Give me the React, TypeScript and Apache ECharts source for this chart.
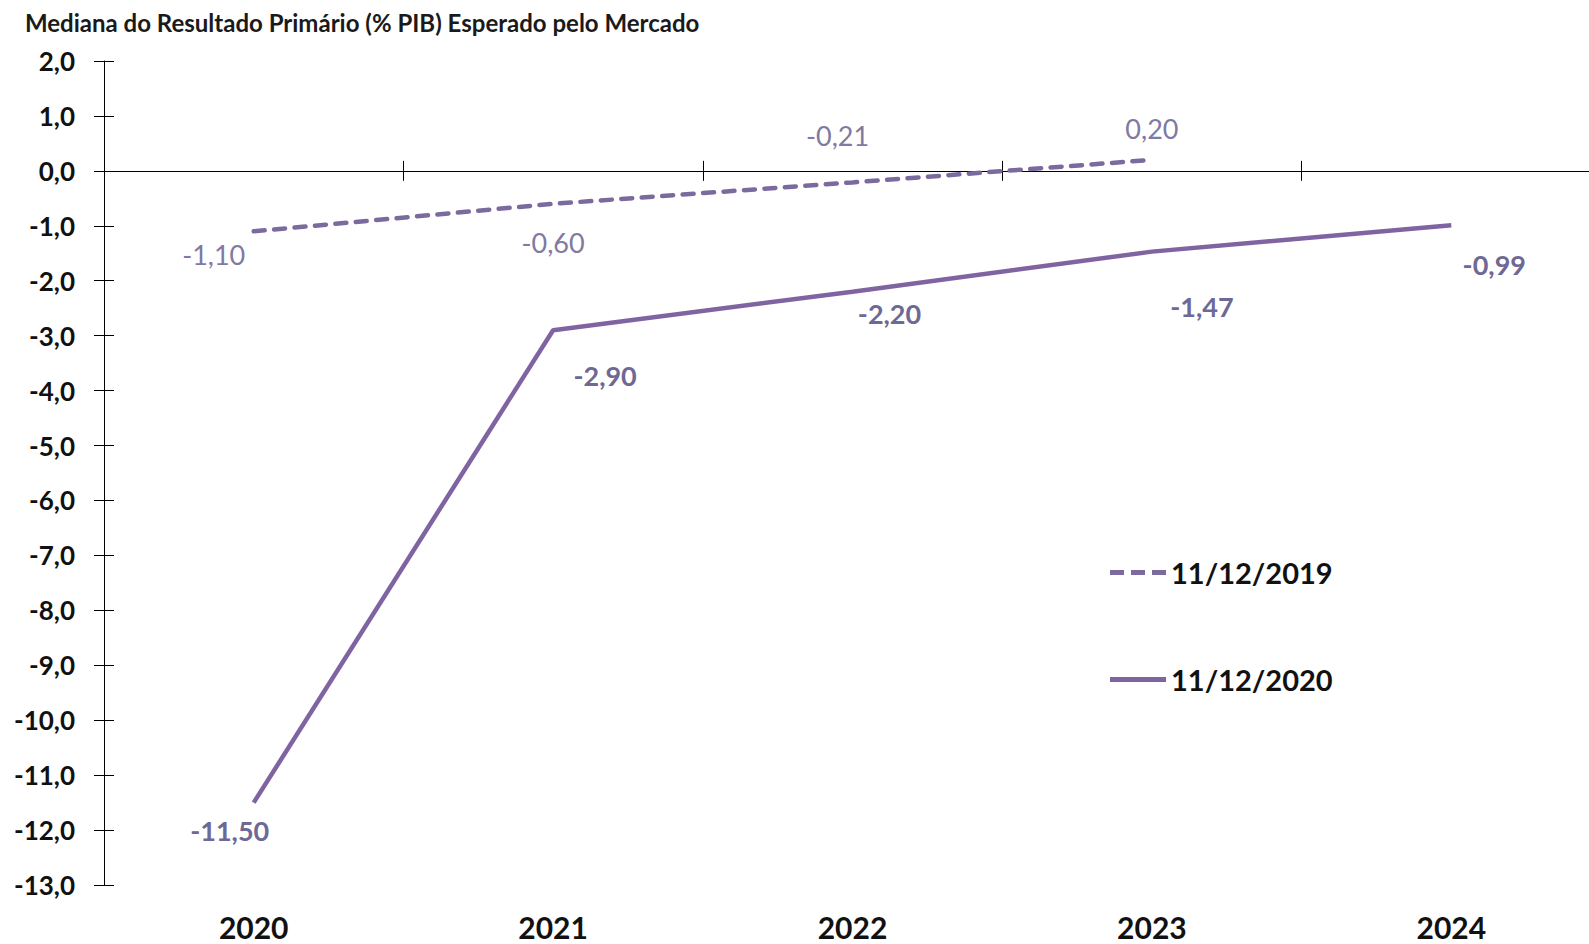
import React, { useEffect, useRef } from 'react';
import * as echarts from 'echarts';

const chartTitle = 'Mediana do Resultado Primário (% PIB) Esperado pelo Mercado';
const categories = ['2020', '2021', '2022', '2023', '2024'];
const seriesNames = ['11/12/2019', '11/12/2020'];
const values2019: (number | null)[] = [-1.1, -0.6, -0.21, 0.2, null];
const values2020: (number | null)[] = [-11.5, -2.9, -2.2, -1.47, -0.99];
const yMin = -13;
const yMax = 2;
const yStep = 1;

// label placement (manually placed in the original)
const labelOffsets2019 = [[-40, 23], [0, 39], [-15, -47], [0, -31], [0, 0]];
const labelOffsets2020 = [[-24, 28], [52, 45], [37, 22], [50, 55], [43, 39]];

const FONT = 'Lato, "Noto Sans", sans-serif';
const color2019 = '#7A6A9E';
const color2020 = '#8064A2';
const labelColor2019 = '#8079A3';
const labelColor2020 = '#6E6896';

const iconSolid = 'path://M0,0H56V5H0Z';
const iconDashed = 'path://M0,0H14V5H0Z M21,0H35V5H21Z M42,0H56V5H42Z';

const fmt2 = (v: number) => v.toFixed(2).replace('.', ',');
const fmt1 = (v: number) => v.toFixed(1).replace('.', ',');

function buildData(vals: (number | null)[], offs: number[][]) {
  return vals.map((v, i) => ({
    value: v,
    label: { offset: offs[i] },
  }));
}

export default function App() {
  const ref = useRef<HTMLDivElement>(null);
  useEffect(() => {
    document.body.style.margin = '0';
    if (!ref.current) return;
    const chart = echarts.init(ref.current, null, { renderer: 'svg' });
    const yAxisBase = {
      type: 'value' as const,
      min: yMin,
      max: yMax,
      interval: yStep,
      position: 'left' as const,
      splitLine: { show: false },
    };
    chart.setOption({
      animation: false,
      backgroundColor: '#ffffff',
      title: {
        text: chartTitle,
        left: 20,
        top: 5,
        textStyle: { fontFamily: FONT, fontSize: 24, fontWeight: 'bold', color: '#1a1a1a' },
      },
      grid: {
        left: 104,
        width: 1497,
        top: 61,
        bottom: 59,
        containLabel: false,
        outerBoundsMode: 'none',
      },
      legend: {
        left: 1105,
        top: 553,
        orient: 'vertical',
        itemWidth: 56,
        itemHeight: 5,
        itemGap: 78,
        data: [
          { name: seriesNames[0], icon: iconDashed },
          { name: seriesNames[1], icon: iconSolid },
        ],
        textStyle: { fontFamily: FONT, fontSize: 29, fontWeight: 'bold', color: '#111' },
      },
      xAxis: [
        {
          type: 'category',
          data: categories,
          position: 'bottom',
          boundaryGap: true,
          axisLine: { show: false, onZero: false },
          axisTick: { show: false },
          axisLabel: {
            margin: 27,
            fontFamily: FONT,
            fontSize: 30,
            lineHeight: 30,
            fontWeight: 'bold',
            color: '#111',
          },
        },
        {
          type: 'category',
          data: categories,
          position: 'bottom',
          boundaryGap: true,
          axisLine: { show: true, onZero: true, onZeroAxisIndex: 0, lineStyle: { color: '#000', width: 1 } },
          axisTick: { show: true, length: 10, lineStyle: { color: '#000', width: 1 } },
          axisLabel: { show: false },
        },
        {
          type: 'category',
          data: categories,
          position: 'bottom',
          boundaryGap: true,
          axisLine: { show: true, onZero: true, onZeroAxisIndex: 0, lineStyle: { color: '#000', width: 1 } },
          axisTick: { show: true, inside: true, length: 10, lineStyle: { color: '#000', width: 1 } },
          axisLabel: { show: false },
        },
      ],
      yAxis: [
        {
          ...yAxisBase,
          axisLine: { show: true, lineStyle: { color: '#000', width: 1 } },
          axisTick: { show: true, length: 10, lineStyle: { color: '#000', width: 1 } },
          axisLabel: {
            margin: 29,
            fontFamily: FONT,
            fontSize: 26,
            fontWeight: 'bold',
            color: '#111',
            formatter: (v: number) => fmt1(v),
          },
        },
        {
          ...yAxisBase,
          axisLine: { show: false },
          axisTick: { show: true, inside: true, length: 10, lineStyle: { color: '#000', width: 1 } },
          axisLabel: { show: false },
        },
      ],
      series: [
        {
          name: seriesNames[0],
          type: 'line',
          xAxisIndex: 0,
          yAxisIndex: 0,
          symbol: 'circle',
          symbolSize: 0,
          showSymbol: true,
          connectNulls: false,
          data: buildData(values2019, labelOffsets2019),
          itemStyle: { color: color2019 },
          lineStyle: { color: color2019, width: 4.5, type: [11, 9.5], cap: 'round' },
          label: {
            show: true,
            position: 'inside',
            fontFamily: FONT,
            fontSize: 27,
            color: labelColor2019,
            formatter: (p: any) => fmt2(p.value),
          },
          z: 3,
        },
        {
          name: seriesNames[1],
          type: 'line',
          xAxisIndex: 0,
          yAxisIndex: 0,
          symbol: 'circle',
          symbolSize: 0,
          showSymbol: true,
          data: buildData(values2020, labelOffsets2020),
          itemStyle: { color: color2020 },
          lineStyle: { color: color2020, width: 4.5 },
          label: {
            show: true,
            position: 'inside',
            fontFamily: FONT,
            fontSize: 27,
            fontWeight: 'bold',
            color: labelColor2020,
            formatter: (p: any) => fmt2(p.value),
          },
          z: 3,
        },
      ],
    });
    return () => chart.dispose();
  }, []);
  return <div ref={ref} style={{ width: 1589, height: 944 }} />;
}
